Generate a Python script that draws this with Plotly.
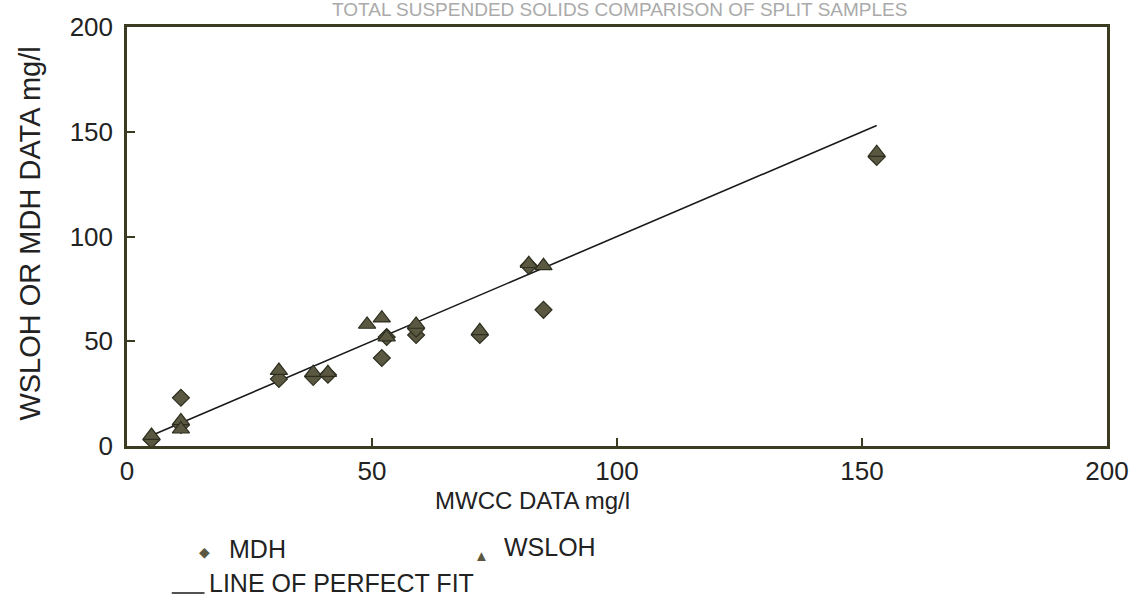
import plotly.graph_objects as go

# MDH (diamonds)
mdh_x = [5, 11, 11, 31, 38, 41, 52, 53, 59, 59, 72, 82, 85, 153]
mdh_y = [3, 23, 10, 32, 33, 34, 42, 52, 53, 56, 53, 86, 65, 138]
# WSLOH (triangles)
wsloh_x = [5, 11, 11, 31, 38, 41, 49, 52, 53, 59, 72, 82, 85, 153]
wsloh_y = [5, 12, 8, 36, 35, 35, 58, 61, 52, 58, 55, 87, 86, 140]
# Line of perfect fit
fit_x = [5, 153]
fit_y = [5, 153]

x_ticks = [0, 50, 100, 150, 200]
y_ticks = [0, 50, 100, 150, 200]

FONT = "Liberation Sans, Arial, sans-serif"
AX = "#3b3b22"
TXT = "#222222"
MFILL = "#5a5840"
MLINE = "#2e2e20"

fig = go.Figure()
fig.add_trace(go.Scatter(x=fit_x, y=fit_y, mode="lines",
                         line=dict(color="#1a1a1a", width=1.6), name="LINE OF PERFECT FIT"))
fig.add_trace(go.Scatter(x=mdh_x, y=mdh_y, mode="markers", name="MDH",
                         marker=dict(symbol="diamond", size=13, color=MFILL,
                                     line=dict(color=MLINE, width=1.2))))
fig.add_trace(go.Scatter(x=wsloh_x, y=wsloh_y, mode="markers", name="WSLOH",
                         marker=dict(symbol="triangle-up", size=15, color=MFILL,
                                     line=dict(color=MLINE, width=1.2))))

axis_common = dict(showline=True, mirror=True, linecolor=AX, linewidth=2.5,
                   ticks="inside", ticklen=8, tickwidth=2, tickcolor=AX,
                   showgrid=False, zeroline=False,
                   tickfont=dict(family=FONT, size=26, color=TXT))
fig.update_xaxes(range=[0, 200], tickvals=x_ticks, **axis_common)
fig.update_yaxes(range=[0, 200], tickvals=y_ticks, ticklabelstandoff=6, **axis_common)

H = 615 - 27 - 169  # plot height in px
W = 1113 - 127

def py(pix):
    return 1 - (pix - 27) / H

def px(pix):
    return (pix - 127) / W

ann = [
    dict(text="MWCC DATA mg/l", x=px(535), y=py(500), font=dict(size=24)),
    dict(text="WSLOH OR MDH DATA mg/l", x=px(29), y=py(234), textangle=-90, font=dict(size=29)),
    dict(text="\u25c6", x=px(205), y=py(552), font=dict(size=14, color=MFILL)),
    dict(text="MDH", x=px(228), y=py(549), xanchor="left", font=dict(size=25)),
    dict(text="\u25b2", x=px(484), y=py(555), font=dict(size=15, color=MFILL)),
    dict(text="WSLOH", x=px(504), y=py(547), xanchor="left", font=dict(size=25)),
    dict(text="LINE OF PERFECT FIT", x=px(207), y=py(583), xanchor="left", font=dict(size=25)),
    dict(text="TOTAL SUSPENDED SOLIDS COMPARISON OF SPLIT SAMPLES", x=px(623), y=py(10),
         font=dict(size=19, color="#aaaaaa")),
]
for a in ann:
    f = dict(family=FONT, color=TXT)
    f.update(a.pop("font"))
    fig.add_annotation(xref="paper", yref="paper", showarrow=False,
                       xanchor=a.pop("xanchor", "center"), yanchor="middle", font=f, **a)

fig.add_shape(type="line", xref="paper", yref="paper", x0=px(172), x1=px(205),
              y0=py(593), y1=py(593), line=dict(color="#1a1a1a", width=1.5))

fig.update_layout(width=1141, height=615, showlegend=False,
                  margin=dict(l=127, r=28, t=27, b=169),
                  paper_bgcolor="white", plot_bgcolor="white",
                  font=dict(family=FONT, color=TXT))

fig.write_html("out.html")
